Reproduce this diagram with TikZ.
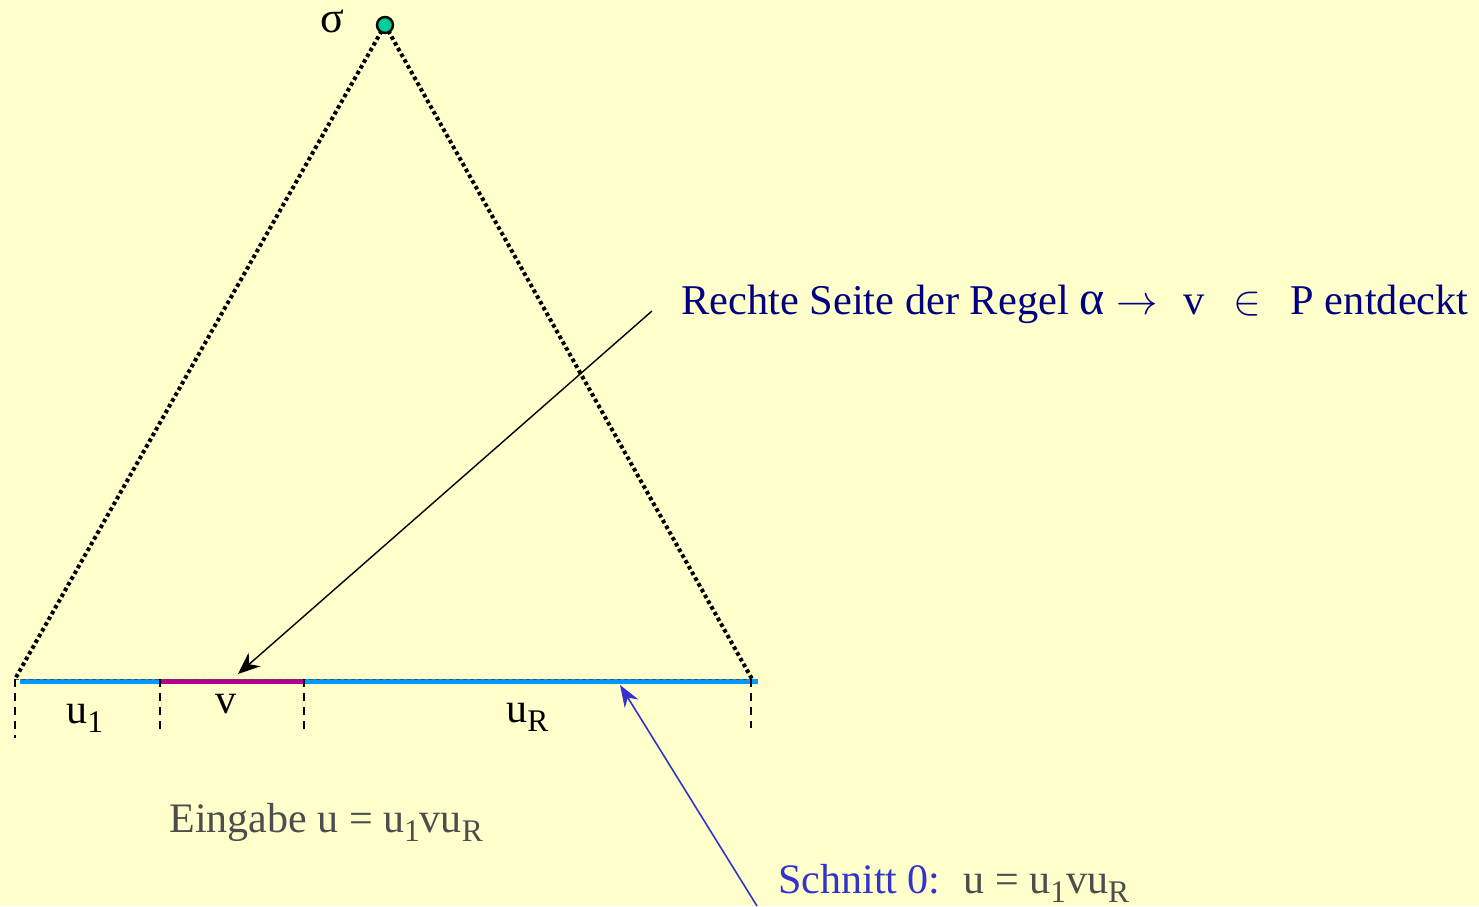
\documentclass[tikz,border=0pt]{standalone}
\usepackage{fontspec}
\setmainfont{Liberation Serif}
\usetikzlibrary{arrows.meta}
\definecolor{bg}{HTML}{FFFFCC}
\definecolor{navy}{HTML}{000080}
\definecolor{grayt}{HTML}{4D4D4D}
\definecolor{bluet}{HTML}{3333CC}
\definecolor{lineblue}{HTML}{0099FF}
\definecolor{magent}{HTML}{B4008C}
\definecolor{dotgreen}{HTML}{00CC99}
\newcommand\sbs[1]{\raisebox{-0.22em}{\scalebox{0.75}{#1}}}
\begin{document}
\begin{tikzpicture}[x=0.5pt,y=-0.5pt,
  dotline/.style={line width=2pt,dash pattern=on 1.8pt off 1.5pt},
  tick/.style={line width=0.7pt,dash pattern=on 4pt off 3pt},
  lbl/.style={inner sep=0pt,anchor=base,font=\fontsize{21}{24}\selectfont},
  ]
\fill[bg] (0,0) rectangle (1479,906);
\useasboundingbox (0,0) rectangle (1479,906);
\coordinate (A) at (385,25);
\coordinate (L) at (15,679);
\coordinate (R) at (752,679);
\coordinate (B0) at (20,681);
\coordinate (B1) at (160,681);
\coordinate (B2) at (304,681);
\coordinate (B3) at (758,681);
% base lines
\draw[lineblue,line width=2.5pt] (B0) -- (B1);
\draw[magent,line width=2.5pt] (B1) -- (B2);
\draw[lineblue,line width=2.5pt] (B2) -- (B3);
\draw[line width=0.5pt,dash pattern=on 2pt off 1.5pt,black!70] (L) -- (R);
% ticks
\coordinate (T0) at (15,738);
\coordinate (T1) at (160,732);
\coordinate (T2) at (304,732);
\coordinate (T3) at (751,728);
\draw[tick] (L) -- (T0);
\draw[tick] (160,679) -- (T1);
\draw[tick] (304,679) -- (T2);
\draw[tick] (751,679) -- (T3);
% triangle
\draw[dotline] (A) -- (L);
\draw[dotline] (A) -- (R);
\node[circle,fill=dotgreen,draw=black,line width=1.2pt,minimum size=8pt,inner sep=0pt] (apex) at (A) {};
\node[lbl,font=\fontsize{22}{24}\selectfont,text height=1ex,text depth=0pt] (sig) at (332,32) {σ};
% labels
\node[lbl,anchor=base west] (u1) at (66,723) {u\sbs{1}};
\node[lbl] (v) at (226,713) {v};
\node[lbl,anchor=base west] (uR) at (506,722) {u\sbs{R}};
% top text
\node[inner sep=0pt,anchor=base west,text=navy,font=\fontsize{21.2}{26}\selectfont] (rule) at (681,314)
  {Rechte Seite der Regel {\fontsize{24}{26}\selectfont α}\hspace{6pt}$\rightarrow$\hspace{13pt}v\hspace{14pt}$\in$\hspace{15pt}P entdeckt};
\coordinate (rs) at (652,311);
\coordinate (rt) at (238,674);
\draw[line width=0.7pt,-{Stealth[length=11pt,width=9pt]}] (rs) -- (rt);
% Eingabe
\node[inner sep=0pt,anchor=base west,text=grayt,font=\fontsize{21}{24}\selectfont] (eing) at (169,832)
  {Eingabe u = u\sbs{1}vu\sbs{R}};
% Schnitt
\node[inner sep=0pt,anchor=base west,font=\fontsize{21}{24}\selectfont] (schn) at (778,893)
  {\textcolor{bluet}{Schnitt 0:}\hspace{0.55em}\textcolor{grayt}{u = u\sbs{1}vu\sbs{R}}};
\coordinate (ss) at (757,906);
\coordinate (st) at (620,685);
\draw[bluet,line width=0.8pt,-{Stealth[length=11pt,width=8pt]}] (ss) -- (st);
\end{tikzpicture}
\end{document}
